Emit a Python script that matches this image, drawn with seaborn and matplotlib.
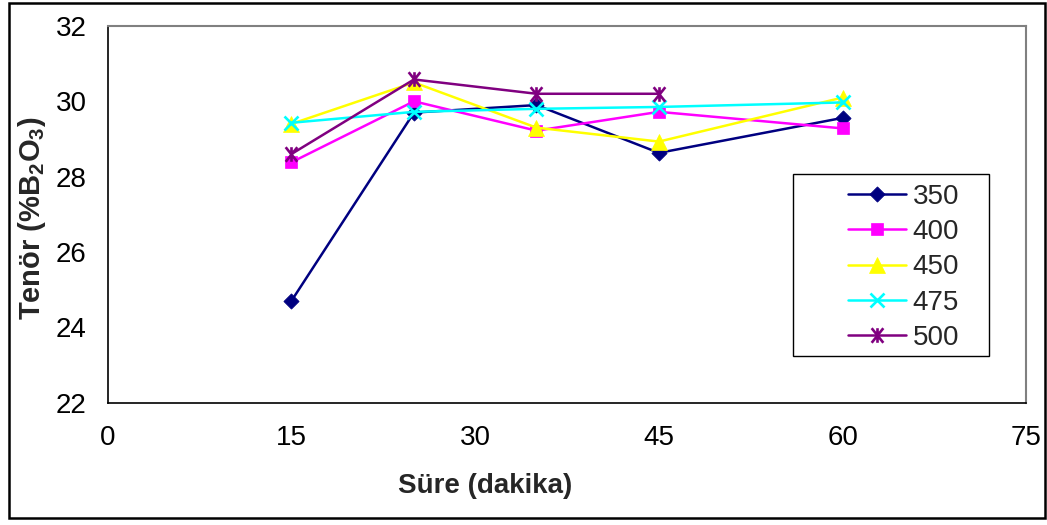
import numpy as np
import pandas as pd
import matplotlib
matplotlib.use("Agg")
import matplotlib.pyplot as plt
from matplotlib.path import Path
from matplotlib.patches import Rectangle
import seaborn as sns

# ---- data ----
sure = [15, 25, 35, 45, 60]
series_names = ["350", "400", "450", "475", "500"]
s350 = [24.70, 29.70, 29.90, 28.63, 29.56]
s400 = [28.38, 30.00, 29.22, 29.72, 29.28]
s450 = [29.40, 30.50, 29.30, 28.93, 30.10]
s475 = [29.43, 29.72, 29.80, 29.85, 29.97]
s500 = [28.60, 30.58, 30.20, 30.20, np.nan]
x_ticks = [0, 15, 30, 45, 60, 75]
y_ticks = [22, 24, 26, 28, 30, 32]

# ---- style ----
sns.set_style("white")
plt.rcParams["font.family"] = ["Liberation Sans", "DejaVu Sans"]
plt.rcParams["mathtext.fontset"] = "custom"
plt.rcParams["mathtext.rm"] = "Liberation Sans:bold"
plt.rcParams["mathtext.it"] = "Liberation Sans:bold"
plt.rcParams["mathtext.bf"] = "Liberation Sans:bold"
plt.rcParams["mathtext.default"] = "rm"

asterisk = Path(
    [(-0.4, -0.5), (0.4, 0.5), (-0.4, 0.5), (0.4, -0.5), (0, -0.5), (0, 0.5)],
    [Path.MOVETO, Path.LINETO, Path.MOVETO, Path.LINETO, Path.MOVETO, Path.LINETO],
)

colors = ["#000080", "#FF00FF", "#FFFF00", "#00FFFF", "#800080"]
markers = [(4, 0, 0), "s", "^", "x", asterisk]
msizes = [11, 8.5, 11, 9.5, 10.5]
values = [s350, s400, s450, s475, s500]

W, H = 1047, 525
fig = plt.figure(figsize=(W / 100, H / 100), dpi=100)
ax = fig.add_axes([107.7 / W, 1 - 402.5 / H, (1026.5 - 107.7) / W, (402.5 - 26) / H])

for name, vals, c, m, ms in zip(series_names, values, colors, markers, msizes):
    df = pd.DataFrame({"x": sure, "y": vals}).dropna()
    filled = m != "x" and not isinstance(m, Path)
    sns.lineplot(
        data=df, x="x", y="y", ax=ax, color=c, lw=1.8, label=name,
        marker=m, markersize=ms,
        markerfacecolor=c, markeredgecolor=c,
        markeredgewidth=1.9 if not filled else 0.5,
        clip_on=False, legend=False,
    )

ax.set_xlim(0, 75)
ax.set_ylim(22, 32)
ax.set_xticks(x_ticks)
ax.set_yticks(y_ticks)
ax.tick_params(axis="both", direction="out", length=6, width=0.8, color="#404040",
               labelsize=20, labelcolor="black")
ax.tick_params(axis="y", pad=9)
ax.tick_params(axis="x", pad=10)
ax.grid(False)

for side in ["left", "bottom"]:
    ax.spines[side].set_color("black")
    ax.spines[side].set_linewidth(1.2)
for side in ["top", "right"]:
    ax.spines[side].set_color("#808080")
    ax.spines[side].set_linewidth(1.5)

ax.set_xlabel("Süre (dakika)", fontsize=20, fontweight="bold")
ax.set_ylabel("Tenör (%B$_2$O$_3$)", fontsize=21, fontweight="bold")
ax.xaxis.label.set_va("center")
ax.xaxis.set_label_coords(0.411, -0.222)
ax.yaxis.label.set_va("center")
ax.yaxis.set_label_coords(-0.0824, 0.49)

handles, labels = ax.get_legend_handles_labels()
leg = ax.legend(
    handles, labels, loc="upper left",
    bbox_to_anchor=(848 / W, 1 - 184 / H), bbox_transform=fig.transFigure,
    frameon=False, fontsize=20, borderpad=0, borderaxespad=0,
    labelspacing=0.33, handlelength=2.1, handletextpad=0.22, numpoints=1,
)

# legend box
fig.patches.append(Rectangle((793 / W, 1 - 356 / H), (989 - 793) / W, (356 - 174) / H,
                             transform=fig.transFigure, fill=False, ec="black", lw=1.0))
# outer chart border
fig.patches.append(Rectangle((8.5 / W, 1 - 518 / H), (1045 - 8.5) / W, (518 - 3) / H,
                             transform=fig.transFigure, fill=False, ec="black", lw=1.8))

fig.savefig("out.png", dpi=100)
